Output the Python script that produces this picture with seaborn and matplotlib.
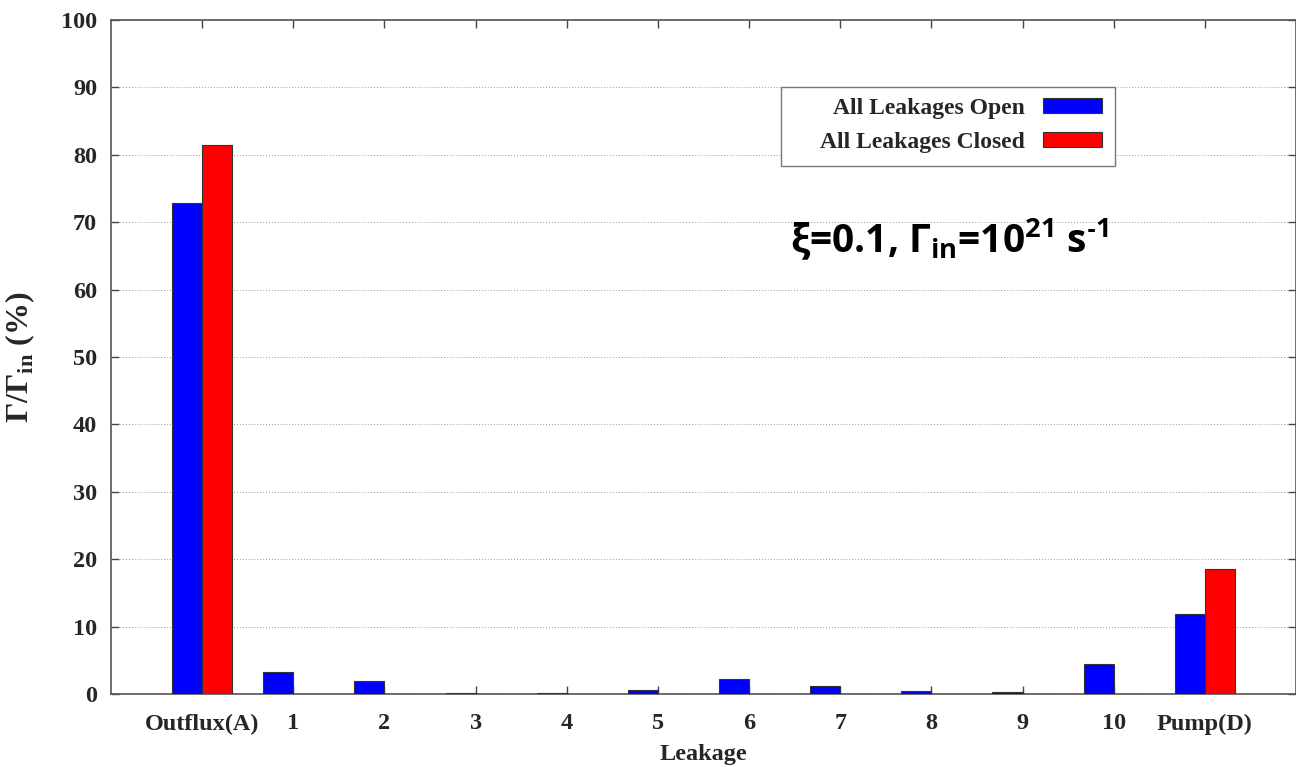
import numpy as np
import pandas as pd
import matplotlib
matplotlib.use("Agg")
import matplotlib.pyplot as plt
from matplotlib.patches import Rectangle
import seaborn as sns

# Particle flux fractions through each exit channel
categories = ["Outflux(A)", "1", "2", "3", "4", "5", "6", "7", "8", "9", "10", "Pump(D)"]
open_values = [72.8, 3.3, 1.9, 0.1, 0.1, 0.6, 2.2, 1.2, 0.4, 0.3, 4.5, 11.9]
closed_values = [81.5, 0, 0, 0, 0, 0, 0, 0, 0, 0, 0, 18.6]
series_names = ["All Leakages Open", "All Leakages Closed"]
y_ticks = [0, 10, 20, 30, 40, 50, 60, 70, 80, 90, 100]

df = pd.DataFrame({
    "Leakage": categories * 2,
    "value": open_values + closed_values,
    "case": [series_names[0]] * len(categories) + [series_names[1]] * len(categories),
})

sns.set_theme(style="ticks")
plt.rcParams["font.family"] = ["Liberation Serif", "DejaVu Serif"]
plt.rcParams["font.weight"] = "bold"
plt.rcParams["mathtext.fontset"] = "custom"
plt.rcParams["mathtext.rm"] = "Liberation Serif"
plt.rcParams["mathtext.bf"] = "Liberation Serif:bold"
plt.rcParams["mathtext.sf"] = "Open Sans:bold"

W, H = 1296, 767
fig = plt.figure(figsize=(W / 100, H / 100), dpi=100)
ax = fig.add_axes([111 / W, 73 / H, 1 - 111 / W, (694 - 20) / H])

sns.barplot(data=df, x="Leakage", y="value", hue="case", order=categories,
            hue_order=series_names, palette=["#0000ff", "#ff0000"],
            width=0.66, gap=0, edgecolor="#333333", linewidth=0.8,
            saturation=1, ax=ax, zorder=3)

ax.set_xlim(-1.0, 12.0)
ax.set_ylim(0, 100)
ax.set_yticks(y_ticks)
ax.yaxis.grid(True, linestyle=(0, (1, 2)), color="#999999", linewidth=0.7, zorder=0)
ax.set_axisbelow(True)

for side in ["left", "bottom", "top", "right"]:
    ax.spines[side].set_visible(True)
    ax.spines[side].set_color("#555555")
    ax.spines[side].set_linewidth(1.2)

ax.tick_params(axis="both", direction="in", length=6, width=1, color="#444444",
               top=True, right=True, labelsize=17.5)
ax.tick_params(axis="x", pad=14)
ax.tick_params(axis="y", pad=10)
for lab in ax.get_xticklabels() + ax.get_yticklabels():
    lab.set_fontweight("bold")

ax.set_xlabel("Leakage", fontsize=17.5, fontweight="bold", labelpad=7)
ax.set_ylabel(r"Γ/Γ$_{\mathbf{in}}$ (%)", fontsize=23, fontweight="bold")
ax.yaxis.set_label_coords((37 - 111) / 1185, 0.5)

# Legend: labels right-aligned with swatches on the right, inside a plain box
handles, labels = ax.get_legend_handles_labels()
if ax.get_legend() is not None:
    ax.get_legend().remove()
fig.add_artist(Rectangle((781 / W, (H - 166) / H), 334 / W, 79 / H,
                         transform=fig.transFigure, facecolor="white",
                         edgecolor="#777777", linewidth=1.0, zorder=4))
leg = fig.legend(handles, labels, loc="upper right",
                 bbox_to_anchor=(1115 / W, 1 - 85 / H), borderaxespad=0,
                 markerfirst=False, frameon=False,
                 prop={"family": "Liberation Serif", "weight": "bold", "size": 17},
                 handlelength=2.5, handleheight=0.6, handletextpad=0.75,
                 labelspacing=0.55, borderpad=0.55)
leg.set_zorder(5)

ax.text((790 - 111) / 1185, (694 - 252) / 674,
        "ξ=0.1, Γ$_{\\mathsf{in}}$=10$^{\\mathsf{21}}$ s$^{\\mathsf{\u2010}\\mathsf{1}}$",
        transform=ax.transAxes, fontsize=28, family="Open Sans", fontweight="bold",
        ha="left", va="baseline", color="black")

fig.savefig("out.png", dpi=100)
